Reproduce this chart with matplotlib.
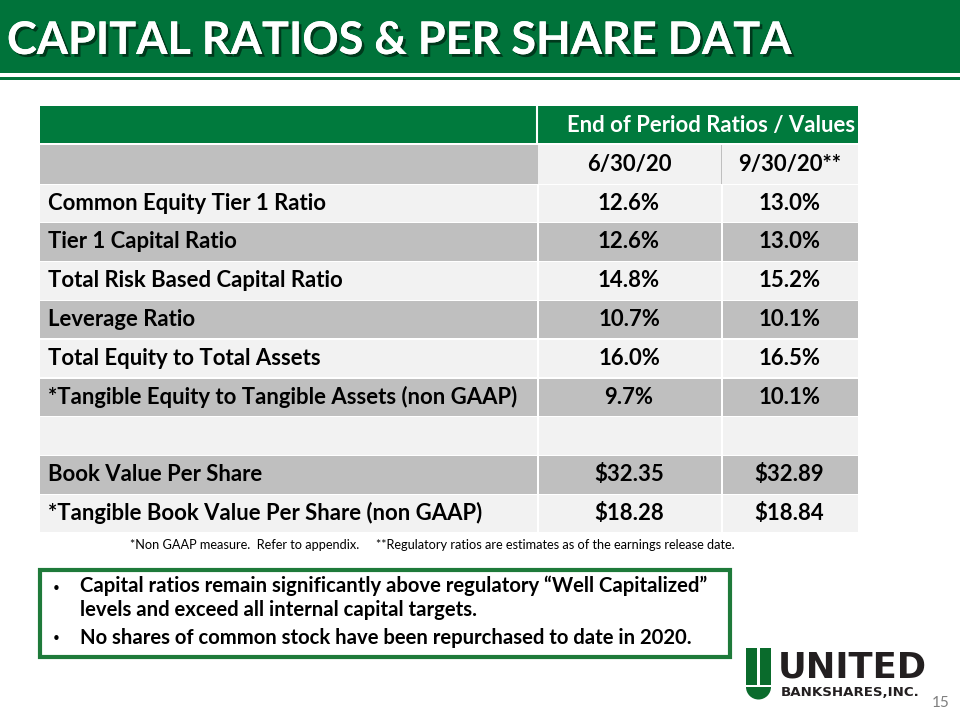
import matplotlib
matplotlib.use('Agg')
import matplotlib.pyplot as plt
from matplotlib.patches import Rectangle, Wedge
import matplotlib.patheffects as pe

title = 'CAPITAL RATIOS & PER SHARE DATA'
group_header = 'End of Period Ratios / Values'
periods = ['6/30/20', '9/30/20**']
row_labels = ['Common Equity Tier 1 Ratio', 'Tier 1 Capital Ratio', 'Total Risk Based Capital Ratio',
              'Leverage Ratio', 'Total Equity to Total Assets',
              '*Tangible Equity to Tangible Assets (non GAAP)', '',
              'Book Value Per Share', '*Tangible Book Value Per Share (non GAAP)']
values_jun = ['12.6%', '12.6%', '14.8%', '10.7%', '16.0%', '9.7%', '', '$32.35', '$18.28']
values_sep = ['13.0%', '13.0%', '15.2%', '10.1%', '16.5%', '10.1%', '', '$32.89', '$18.84']
footnote1 = '*Non GAAP measure.  Refer to appendix.'
footnote2 = '**Regulatory ratios are estimates as of the earnings release date.'
bullets = ['Capital ratios remain significantly above regulatory \u201cWell Capitalized\u201d\nlevels and exceed all internal capital targets.',
           'No shares of common stock have been repurchased to date in 2020.']
page_no = '15'

FONT = 'Lato'
green = '#00733a'
green2 = '#007a3d'
light = '#f2f2f2'
gray = '#bfbfbf'
TS = 15.9
BS = 14.6

fig = plt.figure(figsize=(9.6, 7.2), dpi=100)
ax = fig.add_axes([0, 0, 1, 1])
ax.set_xlim(0, 960)
ax.set_ylim(720, 0)
ax.axis('off')

# title bar
ax.add_patch(Rectangle((0, 0), 960, 73, color=green, lw=0))
ax.add_patch(Rectangle((0, 76.5), 960, 3.5, color=green, lw=0))
ax.text(7, 41, title, color='white', fontsize=32.4, fontweight='bold', family=FONT, va='center',
        path_effects=[pe.withSimplePatchShadow(offset=(2, -2), shadow_rgbFace='black', alpha=0.5), pe.Normal()])

# table
x0, x1, x2, x3 = 40, 537, 721, 858
top = 106
rh = 38.8
ax.add_patch(Rectangle((x0, top), x3 - x0, rh - 2, color=green2, lw=0))
ax.plot([x1, x1], [top, top + rh - 2], color='white', lw=1.5)
ax.text((x1 + x3) / 2 + 14, top + rh / 2, group_header, color='white', fontsize=TS, fontweight='bold',
        family=FONT, ha='center', va='center')

y = top + rh
ax.add_patch(Rectangle((x0, y), x3 - x0, rh, color=gray, lw=0))
for xa, xb, p in [(x1, x2, periods[0]), (x2, x3, periods[1])]:
    ax.add_patch(Rectangle((xa + 1, y), xb - xa - 1, rh, color=light, lw=0))
    ax.text((xa + xb) / 2, y + rh / 2, p, fontsize=TS, fontweight='bold', family=FONT,
            ha='center', va='center', color='black')

for i, (lab, a, b) in enumerate(zip(row_labels, values_jun, values_sep)):
    yy = y + rh * (i + 1)
    c = light if i % 2 == 0 else gray
    for xa, xb in [(x0, x1), (x1 + 1.5, x2), (x2 + 1.5, x3)]:
        ax.add_patch(Rectangle((xa, yy + 1), xb - xa, rh - 1.5, color=c, lw=0))
    ax.text(x0 + 8, yy + rh / 2, lab, fontsize=TS, fontweight='bold', family=FONT, va='center')
    ax.text((x1 + x2) / 2, yy + rh / 2, a, fontsize=TS, fontweight='bold', family=FONT,
            ha='center', va='center')
    ax.text((x2 + x3) / 2, yy + rh / 2, b, fontsize=TS, fontweight='bold', family=FONT,
            ha='center', va='center')

ax.text(130, 545, footnote1, fontsize=9.2, family=FONT, va='center')
ax.text(376, 545, footnote2, fontsize=9.2, family=FONT, va='center')

# bullet box
ax.add_patch(Rectangle((40, 570), 690, 87, fill=False, ec='#1e7a3a', lw=3))
ax.text(52, 589, '\u2022', fontsize=11, family='DejaVu Sans', va='center')
ax.text(80, 576, bullets[0], fontsize=BS, fontweight='bold', family=FONT, va='top', linespacing=1.25)
ax.text(52, 639, '\u2022', fontsize=11, family='DejaVu Sans', va='center')
ax.text(80, 638, bullets[1], fontsize=BS, fontweight='bold', family=FONT, va='center')

# logo
lg = '#0a6b2c'
ax.add_patch(Rectangle((746, 648), 11, 37, color=lg, lw=0))
ax.add_patch(Rectangle((760, 648), 11, 37, color=lg, lw=0))
ax.add_patch(Wedge((758.5, 687), 12.5, 0, 180, color=lg, lw=0))
ax.text(778, 667, 'UNITED', fontsize=25.5, fontweight='bold', family='DejaVu Sans', va='center',
        color='#231f20')
ax.text(781, 692, 'BANKSHARES,INC.', fontsize=9.6, fontweight='bold', family='DejaVu Sans', va='center',
        color='#231f20')
ax.text(941, 703, page_no, fontsize=11, family=FONT, va='center', ha='center', color='#7f7f7f')

fig.savefig('out.png', dpi=100)
